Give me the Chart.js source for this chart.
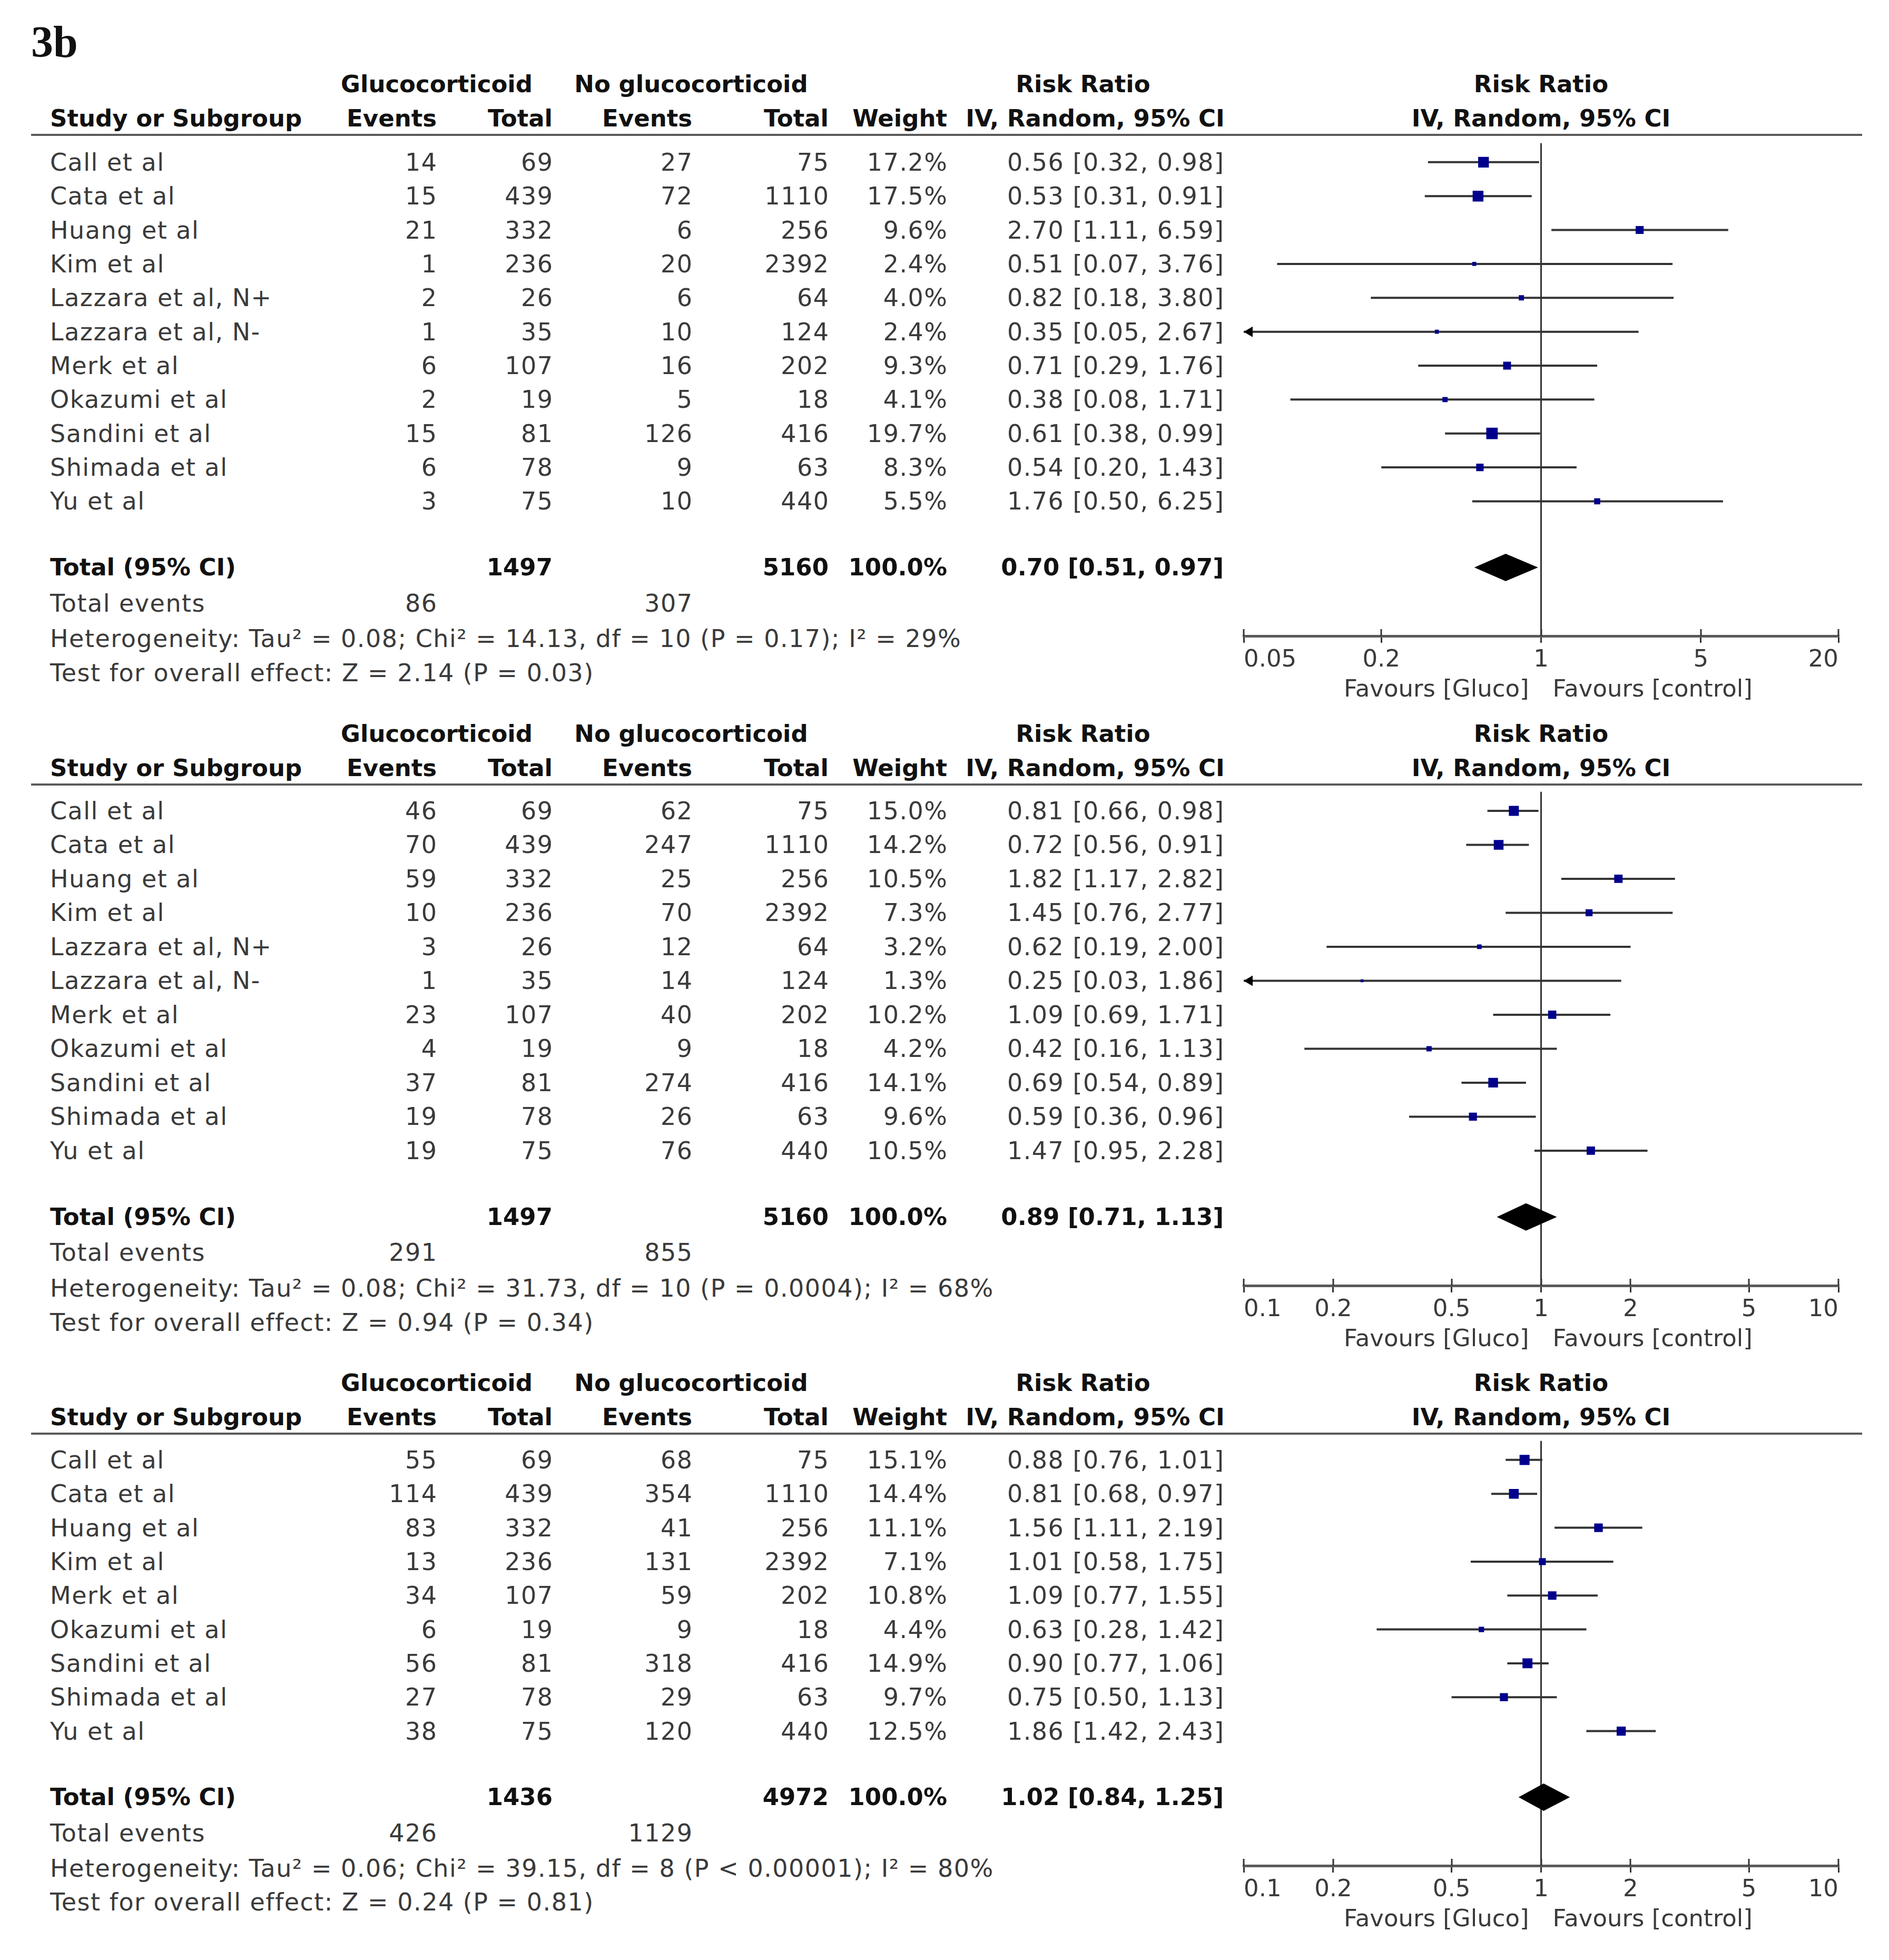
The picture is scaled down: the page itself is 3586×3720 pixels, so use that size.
<!DOCTYPE html>
<html><head><meta charset="utf-8">
<script src="https://cdn.jsdelivr.net/npm/chart.js@4.4.1/dist/chart.umd.min.js"></script>
<style>
html,body{margin:0;padding:0;background:#fff;}
#page{position:relative;width:3586px;height:3720px;overflow:hidden;background:#fff;font-family:"DejaVu Sans",sans-serif;}
.t{position:absolute;white-space:nowrap;font-size:45px;line-height:60px;height:60px;color:#3a3a3a;}
.r{font-size:46px;letter-spacing:1.5px;}
.b{font-weight:bold;color:#111;}
.hl{position:absolute;height:4px;background:#5a5a5a;}
canvas{position:absolute;}
#fig{position:absolute;left:59px;top:38px;font-family:"Liberation Serif","Times New Roman",serif;font-weight:bold;font-size:84px;line-height:84px;color:#111;}
</style></head>
<body><div id="page"><div id="fig">3b</div></div>
<script>
// ---------------- DATA ----------------
const studies1 = ["Call et al","Cata et al","Huang et al","Kim et al","Lazzara et al, N+","Lazzara et al, N-","Merk et al","Okazumi et al","Sandini et al","Shimada et al","Yu et al"];
const studies3 = ["Call et al","Cata et al","Huang et al","Kim et al","Merk et al","Okazumi et al","Sandini et al","Shimada et al","Yu et al"];
const gTotal1 = [69,439,332,236,26,35,107,19,81,78,75];
const cTotal1 = [75,1110,256,2392,64,124,202,18,416,63,440];
const gTotal3 = [69,439,332,236,107,19,81,78,75];
const cTotal3 = [75,1110,256,2392,202,18,416,63,440];

// Panel 1
const gEvents1 = [14,15,21,1,2,1,6,2,15,6,3];
const cEvents1 = [27,72,6,20,6,10,16,5,126,9,10];
const weight1 = [17.2,17.5,9.6,2.4,4.0,2.4,9.3,4.1,19.7,8.3,5.5];
const rr1 = [0.56,0.53,2.70,0.51,0.82,0.35,0.71,0.38,0.61,0.54,1.76];
const lo1 = [0.32,0.31,1.11,0.07,0.18,0.05,0.29,0.08,0.38,0.20,0.50];
const hi1 = [0.98,0.91,6.59,3.76,3.80,2.67,1.76,1.71,0.99,1.43,6.25];
const totN1 = [1497,5160];
const totEv1 = [86,307];
const pooled1 = [0.70,0.51,0.97];
const het1 = "Heterogeneity: Tau\u00b2 = 0.08; Chi\u00b2 = 14.13, df = 10 (P = 0.17); I\u00b2 = 29%";
const test1 = "Test for overall effect: Z = 2.14 (P = 0.03)";
const ticks1 = [0.05,0.2,1,5,20];

// Panel 2
const gEvents2 = [46,70,59,10,3,1,23,4,37,19,19];
const cEvents2 = [62,247,25,70,12,14,40,9,274,26,76];
const weight2 = [15.0,14.2,10.5,7.3,3.2,1.3,10.2,4.2,14.1,9.6,10.5];
const rr2 = [0.81,0.72,1.82,1.45,0.62,0.25,1.09,0.42,0.69,0.59,1.47];
const lo2 = [0.66,0.56,1.17,0.76,0.19,0.03,0.69,0.16,0.54,0.36,0.95];
const hi2 = [0.98,0.91,2.82,2.77,2.00,1.86,1.71,1.13,0.89,0.96,2.28];
const totN2 = [1497,5160];
const totEv2 = [291,855];
const pooled2 = [0.89,0.71,1.13];
const het2 = "Heterogeneity: Tau\u00b2 = 0.08; Chi\u00b2 = 31.73, df = 10 (P = 0.0004); I\u00b2 = 68%";
const test2 = "Test for overall effect: Z = 0.94 (P = 0.34)";
const ticks2 = [0.1,0.2,0.5,1,2,5,10];

// Panel 3
const gEvents3 = [55,114,83,13,34,6,56,27,38];
const cEvents3 = [68,354,41,131,59,9,318,29,120];
const weight3 = [15.1,14.4,11.1,7.1,10.8,4.4,14.9,9.7,12.5];
const rr3 = [0.88,0.81,1.56,1.01,1.09,0.63,0.90,0.75,1.86];
const lo3 = [0.76,0.68,1.11,0.58,0.77,0.28,0.77,0.50,1.42];
const hi3 = [1.01,0.97,2.19,1.75,1.55,1.42,1.06,1.13,2.43];
const totN3 = [1436,4972];
const totEv3 = [426,1129];
const pooled3 = [1.02,0.84,1.25];
const het3 = "Heterogeneity: Tau\u00b2 = 0.06; Chi\u00b2 = 39.15, df = 8 (P < 0.00001); I\u00b2 = 80%";
const test3 = "Test for overall effect: Z = 0.24 (P = 0.81)";
const ticks3 = [0.1,0.2,0.5,1,2,5,10];

// ---------------- LAYOUT ----------------
const COL = {study:95, ge:829, gt:1049, ce:1314, ct:1573, w:1798, rr:2323, gHead:829, cHead:1312, rrHead:2056, ivHead:2079};
const LINE_Y = [256,1489,2721];
const ROW_H = 65.4, FIRST_OFF = 37, AXIS_H = 140;
const CANVAS_LEFT = 2200, CANVAS_W = 1386, PAD_L = 161, PAD_R = 96;

const page = document.getElementById('page');
function txt(s, x, y, align, bold, plain) {
  const d = document.createElement('div');
  d.className = 't' + (bold ? ' b' : (plain ? '' : ' r'));
  d.textContent = s;
  d.style.top = (y - 30) + 'px';
  if (align === 'left') { d.style.left = x + 'px'; }
  else if (align === 'right') { d.style.left = (x - 1400) + 'px'; d.style.width = '1400px'; d.style.textAlign = 'right'; if (!bold && !plain) d.style.marginLeft = '1.5px'; }
  else { d.style.left = (x - 1400) + 'px'; d.style.width = '2800px'; d.style.textAlign = 'center'; }
  page.appendChild(d);
}
const f2 = v => v.toFixed(2);
const ciText = (r,l,h) => f2(r) + ' [' + f2(l) + ', ' + f2(h) + ']';

function buildPanel(p) {
  const n = p.studies.length;
  const yMin = -FIRST_OFF / ROW_H;
  const axisRow = n + 2.97;
  const totRow = n + 0.95;
  const axisY = p.lineY + FIRST_OFF + ROW_H * axisRow;
  const ch = Math.round(axisY - p.lineY) + AXIS_H;

  const hl = document.createElement('div');
  hl.className = 'hl';
  hl.style.left = '59px'; hl.style.width = (3535 - 59) + 'px'; hl.style.top = (p.lineY - 2) + 'px';
  page.appendChild(hl);

  const canvas = document.createElement('canvas');
  canvas.width = CANVAS_W; canvas.height = ch;
  canvas.style.left = CANVAS_LEFT + 'px'; canvas.style.top = p.lineY + 'px';
  canvas.style.width = CANVAS_W + 'px'; canvas.style.height = ch + 'px';
  page.appendChild(canvas);

  const xMin = p.ticks[0], xMax = p.ticks[p.ticks.length - 1];
  const datasets = [];
  datasets.push({
    label: 'Study estimate',
    data: p.rr.map((v, i) => ({x: v, y: i})),
    pointStyle: 'rect',
    pointRadius: p.w.map(w => 4.9 * Math.sqrt(w) / Math.SQRT2),
    pointHoverRadius: p.w.map(w => 4.9 * Math.sqrt(w) / Math.SQRT2),
    backgroundColor: '#00008c', borderColor: '#00008c', borderWidth: 0, showLine: false
  });
  p.lo.forEach((l, i) => {
    datasets.push({
      label: 'CI ' + i,
      data: [{x: l, y: i}, {x: p.hi[i], y: i}],
      showLine: true, borderColor: '#333', borderWidth: 4, pointRadius: 0, pointHoverRadius: 0
    });
  });
  datasets.push({
    label: 'No effect',
    data: [{x: 1, y: yMin}, {x: 1, y: axisRow}],
    showLine: true, borderColor: '#333', borderWidth: 3, pointRadius: 0, pointHoverRadius: 0
  });

  const forestPlugin = {
    id: 'forest',
    afterDatasetsDraw(chart) {
      const {ctx, scales: {x, y}} = chart;
      ctx.save();
      const yt = y.getPixelForValue(totRow);
      ctx.fillStyle = '#000';
      ctx.beginPath();
      ctx.moveTo(x.getPixelForValue(p.pooled[1]), yt);
      ctx.lineTo(x.getPixelForValue(p.pooled[0]), yt - 26);
      ctx.lineTo(x.getPixelForValue(p.pooled[2]), yt);
      ctx.lineTo(x.getPixelForValue(p.pooled[0]), yt + 26);
      ctx.closePath();
      ctx.fill();
      p.lo.forEach((l, i) => {
        if (l <= xMin) {
          const px = x.getPixelForValue(xMin), py = y.getPixelForValue(i);
          ctx.beginPath();
          ctx.moveTo(px, py); ctx.lineTo(px + 17, py - 10); ctx.lineTo(px + 17, py + 10); ctx.closePath();
          ctx.fill();
        }
      });
      ctx.restore();
    },
    afterDraw(chart) {
      const {ctx, scales: {x}} = chart;
      ctx.save();
      ctx.strokeStyle = '#333'; ctx.lineWidth = 3;
      const ay = chart.chartArea.bottom;
      p.ticks.forEach(t => {
        const px = Math.round(x.getPixelForValue(t));
        ctx.beginPath(); ctx.moveTo(px, ay - 13); ctx.lineTo(px, ay); ctx.stroke();
      });
      ctx.restore();
    }
  };

  const chart = new Chart(canvas.getContext('2d'), {
    type: 'scatter',
    data: {datasets},
    options: {
      responsive: false, animation: false, devicePixelRatio: 1,
      layout: {padding: {left: PAD_L, right: PAD_R, top: 0, bottom: 0}},
      plugins: {legend: {display: false}, tooltip: {enabled: false}},
      scales: {
        x: {
          type: 'logarithmic', min: xMin, max: xMax,
          afterBuildTicks: s => { s.ticks = p.ticks.map(v => ({value: v})); },
          afterFit: s => { s.height = AXIS_H; },
          ticks: {callback: v => String(v), font: {family: 'DejaVu Sans', size: 45}, color: '#3a3a3a',
                  padding: 6, maxRotation: 0, minRotation: 0, autoSkip: false, align: 'inner'},
          grid: {drawOnChartArea: false, drawTicks: true, tickLength: 13, color: '#333', lineWidth: 3},
          border: {display: true, color: '#5a5a5a', width: 5}
        },
        y: {type: 'linear', reverse: true, min: yMin, max: axisRow, display: false}
      }
    },
    plugins: [forestPlugin]
  });

  const ys = k => p.lineY + chart.scales.y.getPixelForValue(k);
  const x1 = CANVAS_LEFT + chart.scales.x.getPixelForValue(1);
  const axisPx = p.lineY + chart.chartArea.bottom;

  const h1 = p.lineY - 96, h2 = p.lineY - 31;
  txt('Glucocorticoid', COL.gHead, h1, 'center', true);
  txt('No glucocorticoid', COL.cHead, h1, 'center', true);
  txt('Risk Ratio', COL.rrHead, h1, 'center', true);
  txt('Risk Ratio', x1, h1, 'center', true);
  txt('Study or Subgroup', COL.study, h2, 'left', true);
  txt('Events', COL.ge, h2, 'right', true);
  txt('Total', COL.gt, h2, 'right', true);
  txt('Events', COL.ce, h2, 'right', true);
  txt('Total', COL.ct, h2, 'right', true);
  txt('Weight', COL.w, h2, 'right', true);
  txt('IV, Random, 95% CI', COL.ivHead, h2, 'center', true);
  txt('IV, Random, 95% CI', x1, h2, 'center', true);

  p.studies.forEach((s, i) => {
    const y = ys(i);
    txt(s, COL.study, y, 'left');
    txt(String(p.ge[i]), COL.ge, y, 'right');
    txt(String(p.gt[i]), COL.gt, y, 'right');
    txt(String(p.ce[i]), COL.ce, y, 'right');
    txt(String(p.ct[i]), COL.ct, y, 'right');
    txt(p.w[i].toFixed(1) + '%', COL.w, y, 'right');
    txt(ciText(p.rr[i], p.lo[i], p.hi[i]), COL.rr, y, 'right');
  });
  const yt = ys(totRow);
  txt('Total (95% CI)', COL.study, yt, 'left', true);
  txt(String(p.totN[0]), COL.gt, yt, 'right', true);
  txt(String(p.totN[1]), COL.ct, yt, 'right', true);
  txt('100.0%', COL.w, yt, 'right', true);
  txt(ciText(p.pooled[0], p.pooled[1], p.pooled[2]), COL.rr, yt, 'right', true);
  const ye = ys(n + 2);
  txt('Total events', COL.study, ye, 'left');
  txt(String(p.totEv[0]), COL.ge, ye, 'right');
  txt(String(p.totEv[1]), COL.ce, ye, 'right');
  txt(p.het, COL.study, ys(n + 3.05), 'left');
  txt(p.test, COL.study, ys(n + 4.05), 'left');
  txt('Favours [Gluco]', x1 - 23, axisPx + 100, 'right', false, true);
  txt('Favours [control]', x1 + 22, axisPx + 100, 'left', false, true);
}

const panels = [
  {lineY: LINE_Y[0], studies: studies1, ge: gEvents1, gt: gTotal1, ce: cEvents1, ct: cTotal1, w: weight1, rr: rr1, lo: lo1, hi: hi1, totN: totN1, totEv: totEv1, pooled: pooled1, het: het1, test: test1, ticks: ticks1},
  {lineY: LINE_Y[1], studies: studies1, ge: gEvents2, gt: gTotal1, ce: cEvents2, ct: cTotal1, w: weight2, rr: rr2, lo: lo2, hi: hi2, totN: totN2, totEv: totEv2, pooled: pooled2, het: het2, test: test2, ticks: ticks2},
  {lineY: LINE_Y[2], studies: studies3, ge: gEvents3, gt: gTotal3, ce: cEvents3, ct: cTotal3, w: weight3, rr: rr3, lo: lo3, hi: hi3, totN: totN3, totEv: totEv3, pooled: pooled3, het: het3, test: test3, ticks: ticks3}
];
panels.forEach(buildPanel);
</script>
</body></html>
